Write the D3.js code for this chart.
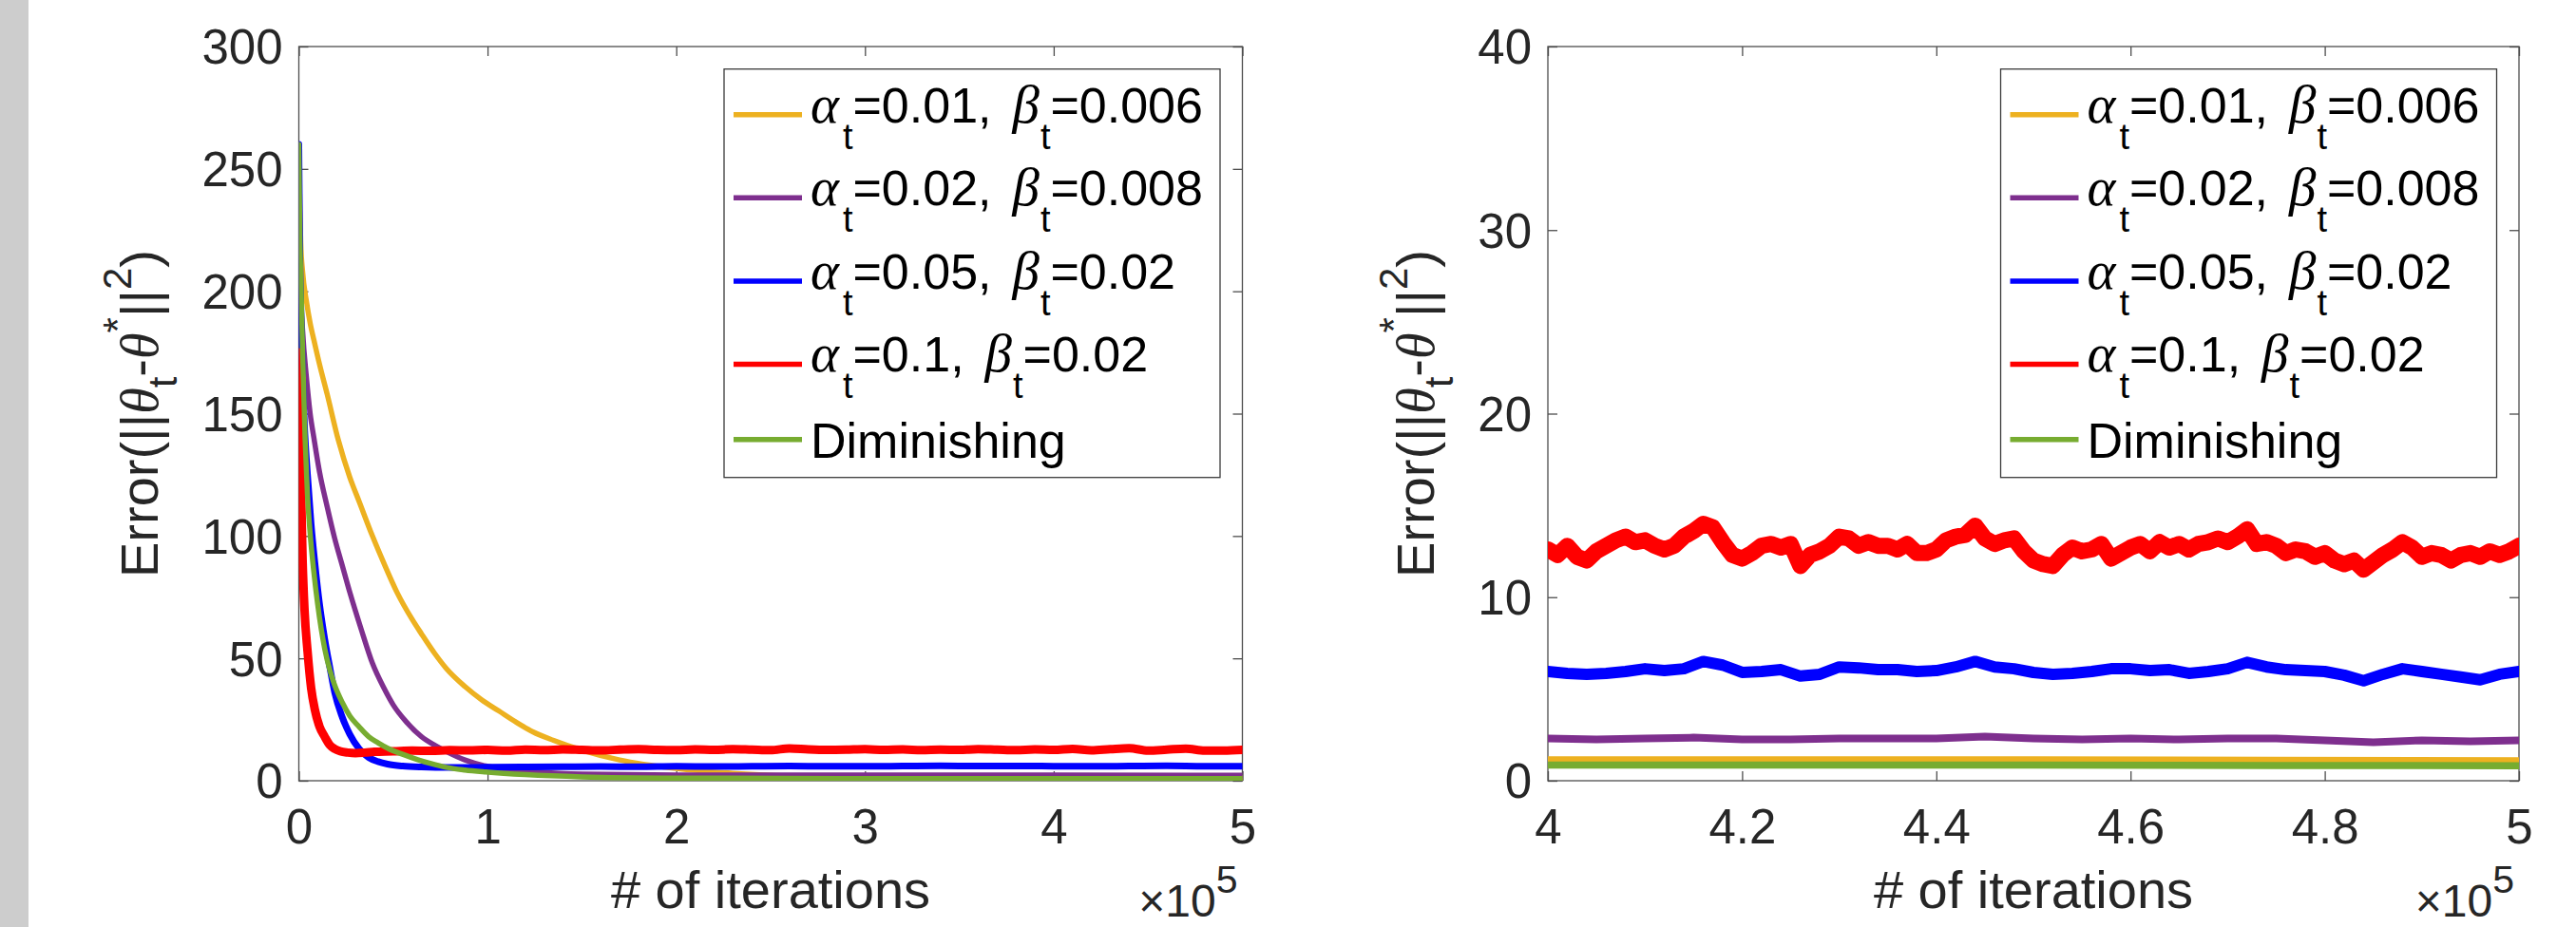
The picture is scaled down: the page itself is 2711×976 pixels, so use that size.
<!DOCTYPE html>
<html>
<head>
<meta charset="utf-8">
<script src="https://cdn.jsdelivr.net/npm/d3@7"></script>
<style>
  html, body { margin: 0; padding: 0; background: #fff; }
  svg { display: block; }
  text { font-family: "Liberation Sans", Arial, Helvetica, sans-serif; }
  .greek { font-family: "Liberation Serif", "DejaVu Serif", serif; font-style: italic; }
</style>
</head>
<body>
<script>
// x values are in units of 10^5 iterations
var alphaVals = ["0.01", "0.02", "0.05", "0.1"];
var betaVals = ["0.006", "0.008", "0.02", "0.02"];
var lastName = "Diminishing";
var colors = ["#EDB120", "#7E2F8E", "#0000FF", "#FF0000", "#77AC30"];

var leftXTicks = [0, 1, 2, 3, 4, 5];
var leftYTicks = [0, 50, 100, 150, 200, 250, 300];
var rightXTicks = [4, 4.2, 4.4, 4.6, 4.8, 5];
var rightYTicks = [0, 10, 20, 30, 40];

// left panel, full run
var yellowL = [[0,260],[0.005,235],[0.01,220],[0.02,208],[0.04,196],[0.06,187],[0.08,180],[0.11,170],[0.15,158],[0.21,139],[0.27,124],[0.32,114],[0.39,100],[0.45,89],[0.52,77],[0.6,66],[0.65,60],[0.72,52],[0.78,46],[0.88,38.5],[0.97,33],[1.06,28.5],[1.15,24],[1.24,20],[1.35,16.5],[1.5,12.5],[1.7,8.5],[2.0,5.0],[2.3,3.0],[2.6,1.9],[3.0,1.4],[3.5,1.2],[4.0,1.15],[4.5,1.15],[5.0,1.15]];
var purpleL = [[0,260],[0.005,220],[0.01,200],[0.02,184],[0.04,165],[0.06,150],[0.08,140],[0.11,126],[0.15,112],[0.19,99],[0.23,88],[0.27,77],[0.33,62],[0.39,48],[0.45,38],[0.5,31],[0.57,24],[0.65,18],[0.72,14.5],[0.78,12],[0.88,8.5],[0.99,6],[1.1,4.6],[1.25,3.6],[1.5,2.7],[2.0,2.35],[3.0,2.3],[4.0,2.3],[5.0,2.2]];
var blueL = [[0,260],[0.005,215],[0.01,195],[0.02,165],[0.03,145],[0.046,125],[0.065,105],[0.085,89],[0.11,72],[0.137,58],[0.165,46],[0.19,36],[0.23,26],[0.27,19],[0.32,13],[0.37,9.5],[0.42,7.8],[0.47,6.8],[0.55,6.0],[0.65,5.6],[0.8,5.4],[1.0,5.5],[1.2,5.6],[1.4,5.7],[1.6,5.8],[1.8,5.7],[2.0,5.9],[2.2,5.8],[2.4,5.9],[2.6,6.0],[2.8,5.9],[3.0,5.9],[3.2,6.0],[3.4,6.1],[3.6,6.0],[3.8,6.0],[4.0,5.95],[4.2,5.9],[4.4,6.0],[4.6,6.1],[4.8,5.95],[5.0,5.95]];
var redL = [[0,175],[0.003,160],[0.006,145],[0.01,125],[0.02,90],[0.03,70],[0.046,53],[0.065,38],[0.085,29],[0.11,22],[0.137,18],[0.165,14.5],[0.19,13],[0.22,12],[0.26,11.5],[0.3,11.3],[0.35,11.5],[0.4,11.8],[0.5,12.0],[0.6,12.3],[0.7,12.2],[0.8,12.5],[0.9,12.4],[1.0,12.6],[1.1,12.3],[1.2,12.7],[1.3,12.5],[1.4,12.8],[1.5,12.6],[1.6,12.4],[1.7,12.7],[1.8,12.9],[1.9,12.6],[2.0,12.5],[2.1,12.8],[2.2,12.6],[2.3,12.9],[2.4,12.7],[2.5,12.5],[2.6,13.2],[2.7,12.8],[2.8,12.6],[2.9,12.7],[3.0,12.9],[3.1,12.6],[3.2,12.8],[3.3,12.5],[3.4,12.7],[3.5,12.6],[3.6,12.9],[3.7,12.7],[3.8,12.5],[3.9,12.8],[4.0,12.6],[4.1,13.0],[4.2,12.4],[4.3,12.9],[4.4,13.3],[4.5,12.3],[4.6,12.7],[4.7,13.1],[4.8,12.3],[4.9,12.3],[5.0,12.6]];
var greenL = [[0,260],[0.005,225],[0.013,198],[0.02,175],[0.033,140],[0.045,118],[0.06,101],[0.08,85],[0.1,72],[0.137,54],[0.165,45],[0.19,39],[0.23,32],[0.27,26.5],[0.32,22],[0.37,18],[0.42,15.5],[0.47,13.3],[0.55,10.8],[0.63,8.6],[0.7,7.0],[0.78,5.5],[0.88,4.4],[0.99,3.6],[1.2,2.5],[1.5,1.6],[2.0,1.1],[3.0,0.9],[4.0,0.85],[5.0,0.85]];

// right panel, zoom on 4..5 (x10^5)
var yellowR = [[4,1.15],[4.25,1.15],[4.5,1.15],[4.75,1.12],[5,1.1]];
var purpleR = [[4.00,2.3],[4.05,2.25],[4.10,2.3],[4.15,2.35],[4.20,2.25],[4.25,2.25],[4.30,2.3],[4.35,2.3],[4.40,2.3],[4.45,2.4],[4.50,2.3],[4.55,2.25],[4.60,2.3],[4.65,2.25],[4.70,2.3],[4.75,2.3],[4.80,2.2],[4.85,2.1],[4.90,2.2],[4.95,2.15],[5.00,2.2]];
var blueR = [[4.00,5.95],[4.02,5.85],[4.04,5.8],[4.06,5.85],[4.08,5.95],[4.10,6.1],[4.12,6.0],[4.14,6.1],[4.16,6.5],[4.18,6.3],[4.20,5.9],[4.22,5.95],[4.24,6.05],[4.26,5.7],[4.28,5.8],[4.30,6.2],[4.32,6.15],[4.34,6.05],[4.36,6.05],[4.38,5.95],[4.40,6.0],[4.42,6.2],[4.44,6.5],[4.46,6.2],[4.48,6.1],[4.50,5.9],[4.52,5.8],[4.54,5.85],[4.56,5.95],[4.58,6.1],[4.60,6.1],[4.62,6.0],[4.64,6.05],[4.66,5.85],[4.68,5.95],[4.70,6.1],[4.72,6.45],[4.74,6.2],[4.76,6.05],[4.78,6.0],[4.80,5.95],[4.82,5.75],[4.84,5.45],[4.86,5.8],[4.88,6.1],[4.90,5.95],[4.92,5.8],[4.94,5.65],[4.96,5.5],[4.98,5.8],[5.00,5.95]];
var redRVals = [12.6,12.3,12.8,12.2,12.0,12.5,12.8,13.1,13.3,13.0,
  13.1,12.8,12.6,12.8,13.3,13.6,14.0,13.8,13.0,12.3,
  12.1,12.4,12.8,12.9,12.7,12.9,11.7,12.3,12.5,12.8,
  13.3,13.2,12.8,13.0,12.8,12.8,12.6,12.9,12.4,12.4,
  12.6,13.1,13.3,13.4,13.9,13.2,12.9,13.1,13.2,12.5,
  12.0,11.8,11.7,12.3,12.7,12.5,12.6,12.9,12.1,12.4,
  12.7,12.9,12.5,13.0,12.7,12.9,12.6,12.9,13.0,13.2,
  13.0,13.3,13.7,12.9,13.0,12.8,12.4,12.6,12.5,12.2,
  12.4,12.0,11.8,12.0,11.5,11.9,12.3,12.6,13.0,12.7,
  12.2,12.4,12.3,12.0,12.3,12.4,12.2,12.5,12.3,12.5,12.8];
var greenR = [[4,0.85],[4.25,0.85],[4.5,0.85],[4.75,0.83],[5,0.82]];

var W = 2711, H = 976;
var svg = d3.select("body").append("svg").attr("width", W).attr("height", H);
svg.append("rect").attr("x", 0).attr("y", 0).attr("width", 30).attr("height", H).attr("fill", "#cdcdcd");

var axisColor = "#4d4d4d", textColor = "#262626";

function drawPanel(p) {
  var x = d3.scaleLinear().domain(p.xdom).range([p.x0, p.x1]);
  var y = d3.scaleLinear().domain(p.ydom).range([p.y1, p.y0]);
  var id = "clip" + p.id;
  svg.append("clipPath").attr("id", id).append("rect")
     .attr("x", p.x0).attr("y", p.y0).attr("width", p.x1 - p.x0).attr("height", p.y1 - p.y0);

  // axes: inward ticks on all four sides
  var gB = svg.append("g").attr("transform", `translate(0,${p.y1})`)
     .call(d3.axisBottom(x).tickValues(p.xticks).tickFormat(p.fmt).tickSizeInner(-10).tickSizeOuter(0).tickPadding(30));
  var gL = svg.append("g").attr("transform", `translate(${p.x0},0)`)
     .call(d3.axisLeft(y).tickValues(p.yticks).tickFormat(d3.format("d")).tickSizeInner(-10).tickSizeOuter(0).tickPadding(17));
  var gT = svg.append("g").attr("transform", `translate(0,${p.y0})`)
     .call(d3.axisTop(x).tickValues(p.xticks).tickFormat("").tickSizeInner(-10).tickSizeOuter(0));
  var gR = svg.append("g").attr("transform", `translate(${p.x1},0)`)
     .call(d3.axisRight(y).tickValues(p.yticks).tickFormat("").tickSizeInner(-10).tickSizeOuter(0));
  [gB, gL, gT, gR].forEach(function(g) {
    g.select(".domain").remove();
    g.selectAll("line").attr("stroke", axisColor).attr("stroke-width", 1.3);
    g.selectAll("text").attr("font-size", 51).attr("fill", textColor)
     .attr("font-family", '"Liberation Sans", Arial, sans-serif');
  });
  gL.selectAll("text").attr("dy", "0.35em");

  svg.append("rect").attr("x", p.x0).attr("y", p.y0)
     .attr("width", p.x1 - p.x0).attr("height", p.y1 - p.y0)
     .attr("fill", "none").attr("stroke", axisColor).attr("stroke-width", 1.3);

  // lines
  var plot = svg.append("g").attr("clip-path", `url(#${id})`);
  p.series.forEach(function(s, i) {
    var line = d3.line().x(function(d) { return x(d[0]); }).y(function(d) { return y(d[1]); })
       .curve(p.curve);
    plot.append("path").datum(s).attr("d", line)
       .attr("fill", "none").attr("stroke", colors[i]).attr("stroke-width", p.widths[i])
       .attr("stroke-linejoin", "round").attr("stroke-linecap", "round");
  });

  // x label
  svg.append("text").attr("x", (p.x0 + p.x1) / 2).attr("y", 956).attr("text-anchor", "middle")
     .attr("font-size", 56).attr("fill", textColor).text("# of iterations");
  // multiplier
  var ex = svg.append("text").attr("x", p.x1 - 5).attr("y", 965).attr("text-anchor", "end")
     .attr("font-size", 48).attr("fill", textColor);
  ex.append("tspan").text("\u00d710");
  ex.append("tspan").attr("font-size", 41).attr("dy", -25).text("5");

  // y label
  var yl = svg.append("text").attr("transform", `translate(${p.ylabX},${(p.y0 + p.y1) / 2}) rotate(-90)`)
     .attr("text-anchor", "middle").attr("font-size", 56).attr("fill", textColor);
  yl.append("tspan").text("Error(||");
  yl.append("tspan").attr("class", "greek").text("\u03b8");
  yl.append("tspan").attr("font-size", 42).attr("dy", 20).text("t");
  yl.append("tspan").attr("dy", -20).text("-");
  yl.append("tspan").attr("class", "greek").text("\u03b8");
  yl.append("tspan").attr("font-size", 42).attr("dy", -28).text("*");
  yl.append("tspan").attr("dy", 28).text("||");
  yl.append("tspan").attr("font-size", 42).attr("dy", -28).text("2");
  yl.append("tspan").attr("dy", 28).text(")");

  // legend
  var lx = p.x1 - 23.5 - 522, ly = p.y0 + 23.7;
  var lg = svg.append("g").attr("transform", `translate(${lx},${ly})`);
  lg.append("rect").attr("width", 522).attr("height", 430)
    .attr("fill", "#fff").attr("stroke", "#3a3a3a").attr("stroke-width", 1.3);
  var rowY = [48, 135.6, 223.2, 310.8, 390];
  rowY.forEach(function(ry, i) {
    lg.append("line").attr("x1", 10).attr("x2", 82).attr("y1", ry).attr("y2", ry)
      .attr("stroke", colors[i]).attr("stroke-width", 5.5);
    var t = lg.append("text").attr("x", 91).attr("font-size", 52).attr("fill", "#000");
    if (i < 4) {
      t.attr("y", ry + 8);
      t.append("tspan").attr("class", "greek").attr("font-size", 57).text("\u03b1");
      t.append("tspan").attr("font-size", 38).attr("dx", 4).attr("dy", 28).text("t");
      t.append("tspan").attr("dy", -28).text("=" + alphaVals[i] + ",");
      t.append("tspan").attr("class", "greek").attr("font-size", 57).attr("dx", 22).text("\u03b2");
      t.append("tspan").attr("font-size", 38).attr("dx", 1).attr("dy", 28).text("t");
      t.append("tspan").attr("dy", -28).text("=" + betaVals[i]);
    } else {
      t.attr("y", ry + 19).text(lastName);
    }
  });
}

var redR = redRVals.map(function(v, i) { return [4 + i / 100, v]; });

drawPanel({
  id: "L", x0: 314.5, x1: 1307.5, y0: 49, y1: 822, ylabX: 166,
  xdom: [0, 5], ydom: [0, 300], xticks: leftXTicks, yticks: leftYTicks,
  fmt: d3.format("d"), curve: d3.curveMonotoneX,
  series: [yellowL, purpleL, blueL, redL, greenL], widths: [5.5, 5.5, 7, 9, 5.5]
});
drawPanel({
  id: "R", x0: 1629, x1: 2651, y0: 49, y1: 822, ylabX: 1509,
  xdom: [4, 5], ydom: [0, 40], xticks: rightXTicks, yticks: rightYTicks,
  fmt: function(d) { return String(+d.toFixed(1)); }, curve: d3.curveLinear,
  series: [yellowR, purpleR, blueR, redR, greenR], widths: [7, 8, 12, 17, 7.5]
});
</script>
</body>
</html>
